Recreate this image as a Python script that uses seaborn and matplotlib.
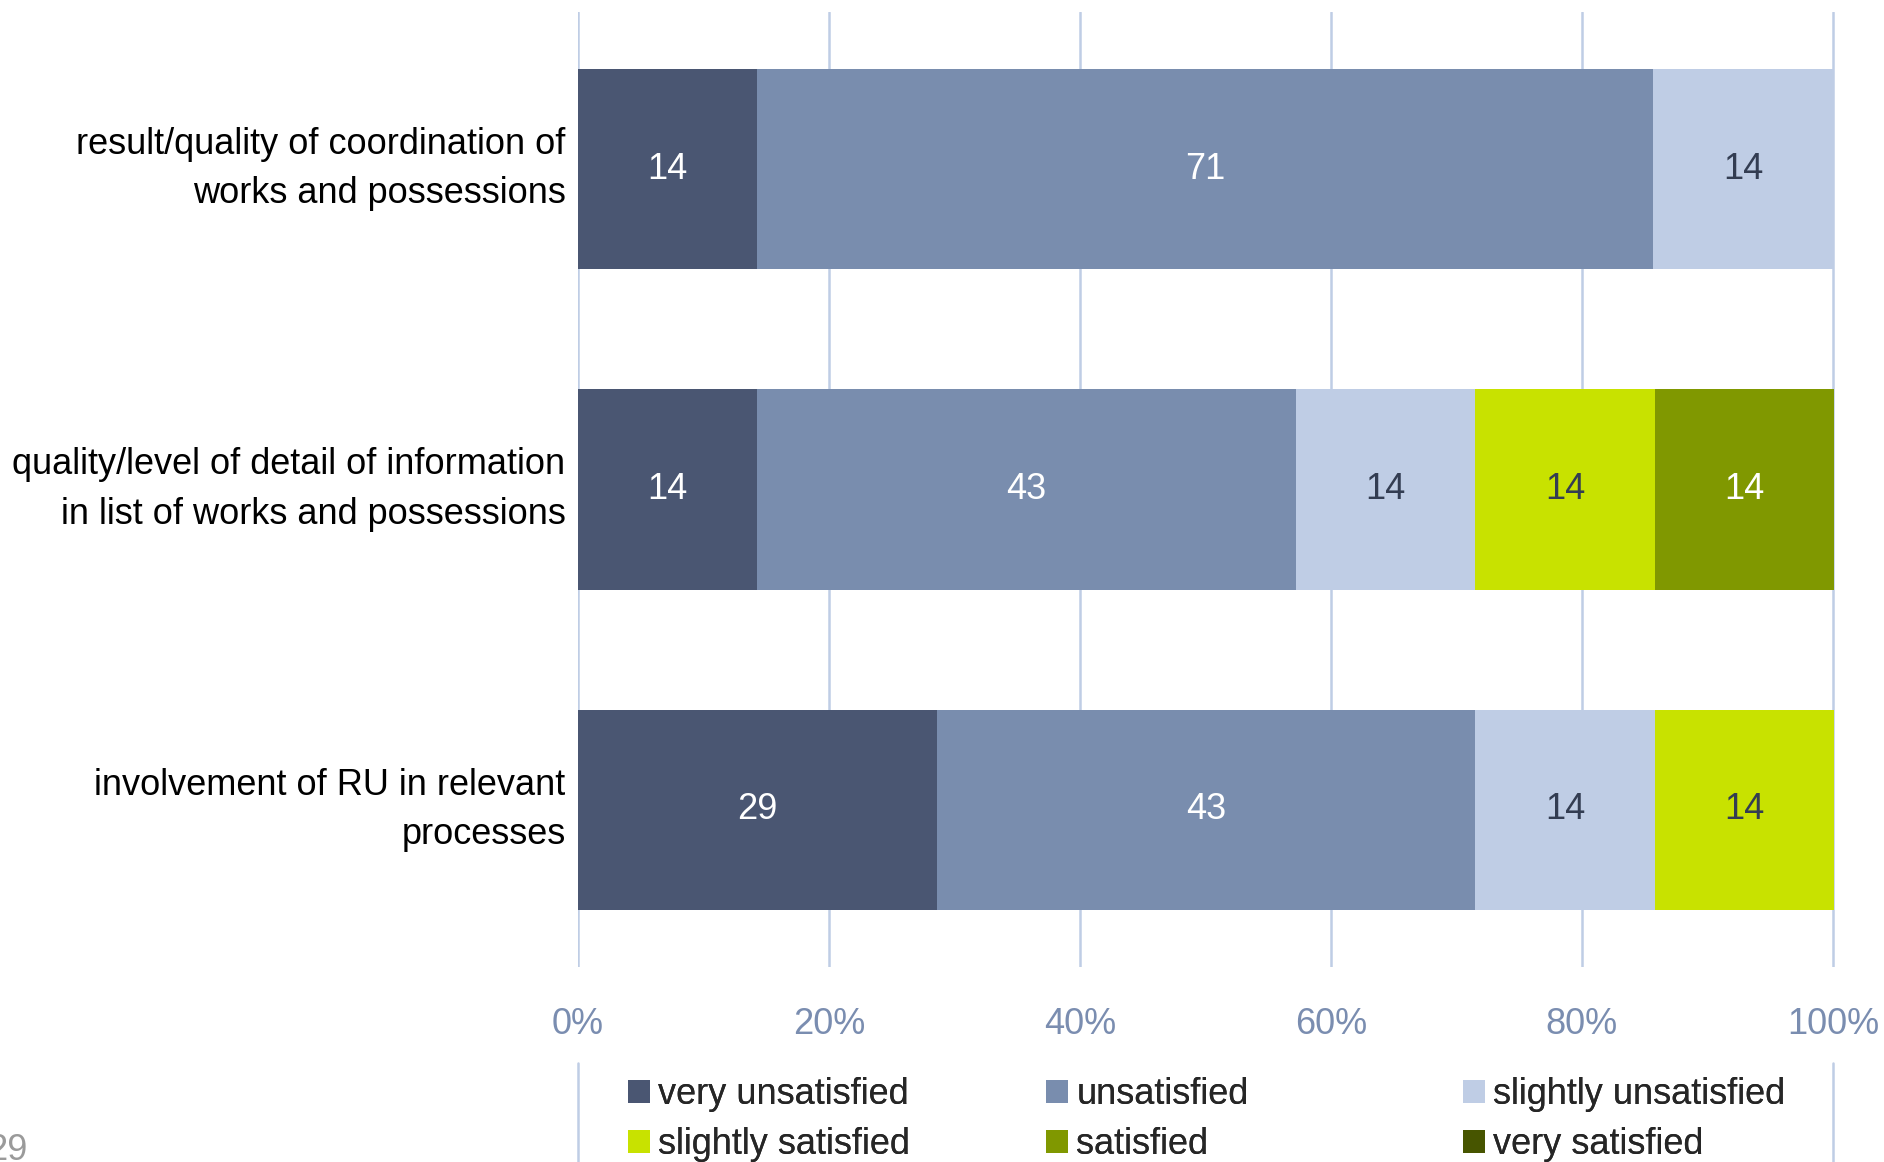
import matplotlib
matplotlib.use("Agg")
import matplotlib.pyplot as plt
from matplotlib.lines import Line2D
from matplotlib.patches import Patch
import numpy as np
import pandas as pd
import seaborn as sns

# Survey questions (top to bottom)
categories = [
    "result/quality of coordination of\nworks and possessions",
    "quality/level of detail of information\nin list of works and possessions",
    "involvement of RU in relevant\nprocesses",
]

# Response levels, in stacking order
levels = [
    "very unsatisfied",
    "unsatisfied",
    "slightly unsatisfied",
    "slightly satisfied",
    "satisfied",
    "very satisfied",
]

# Share of answers per level (percent of respondents)
very_unsatisfied = [14.3, 14.3, 28.6]
unsatisfied = [71.4, 42.9, 42.9]
slightly_unsatisfied = [14.3, 14.3, 14.3]
slightly_satisfied = [0.0, 14.3, 14.3]
satisfied = [0.0, 14.3, 0.0]
very_satisfied = [0.0, 0.0, 0.0]

colors = ["#4A5672", "#798DAE", "#BFCDE5", "#C8E200", "#809800", "#475500"]
label_colors = ["white", "white", "#333D52", "#333D52", "white", "white"]

series = [very_unsatisfied, unsatisfied, slightly_unsatisfied,
          slightly_satisfied, satisfied, very_satisfied]

sns.set_theme(style="white")
plt.rcParams["font.family"] = ["Liberation Sans", "DejaVu Sans"]

FS = 26

df = pd.DataFrame({lvl: vals for lvl, vals in zip(levels, series)})
df["question"] = categories
cum = df[levels].cumsum(axis=1)
left = cum - df[levels]

W, H = 1884, 1162
fig = plt.figure(figsize=(W / 100, H / 100), dpi=100)
ax = fig.add_axes([578 / W, 1 - 967 / H, (1836 - 578) / W, (967 - 12) / H])

# stacked bars: draw cumulative totals from the outermost layer inward
for lvl, col in reversed(list(zip(levels, colors))):
    sns.barplot(x=cum[lvl], y=df["question"], orient="h", color=col,
                width=0.625, linewidth=0, saturation=1, ax=ax, zorder=2)

# value labels centred in each segment
for i, q in enumerate(categories):
    for lvl, tc in zip(levels, label_colors):
        v = df.loc[i, lvl]
        if v > 0:
            ax.text(left.loc[i, lvl] + v / 2, i, f"{v:.0f}", ha="center",
                    va="center", color=tc, fontsize=FS, zorder=3)

ax.set_xlim(0, 100.25)
ax.set_ylim(2.49, -0.49)
ax.set_xticks(np.arange(0, 101, 20))
ax.set_xticklabels([f"{t}%" for t in range(0, 101, 20)])
ax.grid(axis="x", color="#BFCDE5", linewidth=1.8, zorder=0)
ax.grid(axis="y", visible=False)
ax.set_axisbelow(True)
for s in ax.spines.values():
    s.set_visible(False)
ax.set_xlabel("")
ax.set_ylabel("")
ax.tick_params(axis="x", length=0, pad=29, labelsize=FS, labelcolor="#7A8DB0")
ax.tick_params(axis="y", length=0, pad=9, labelsize=FS, labelcolor="black")
for t in ax.get_yticklabels():
    t.set_horizontalalignment("right")
    t.set_verticalalignment("center")
    t.set_multialignment("right")
    t.set_linespacing(1.55)

# legend: three fixed columns, two rows, filled row by row
col_x = [628, 1046, 1463]
row_y = [1095, 1145]
for k, (lvl, col) in enumerate(zip(levels, colors)):
    r, c = divmod(k, 3)
    lg = fig.legend([Patch(facecolor=col, edgecolor="none")], [lvl],
                    loc="center left",
                    bbox_to_anchor=(col_x[c] / W, 1 - row_y[r] / H),
                    frameon=False, fontsize=FS, handlelength=0.62,
                    handleheight=0.62, handletextpad=0.22, borderpad=0,
                    borderaxespad=0)
    fig.add_artist(lg)

# legend box sides
for xp in (578, 1833):
    fig.add_artist(Line2D([xp / W, xp / W], [0, 1 - 1063 / H],
                          color="#BFCDE5", linewidth=1.8))

# page number
fig.text(-0.007, 1 - 1150 / H, "29", fontsize=FS, color="#9A9A9A",
         ha="left", va="center")

fig.savefig("out.png", dpi=100)
